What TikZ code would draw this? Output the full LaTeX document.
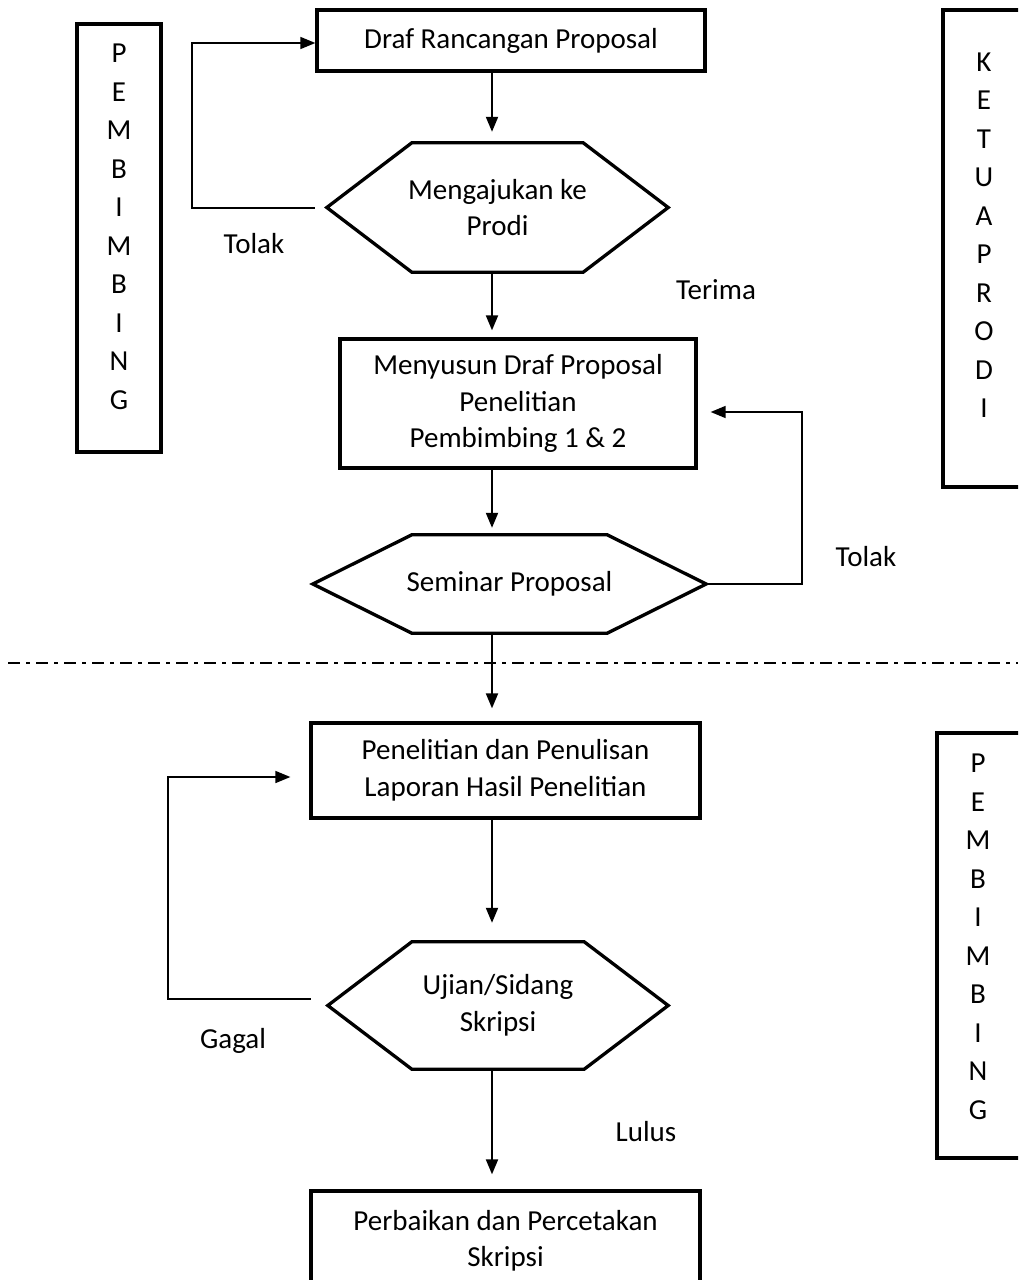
\documentclass[tikz,border=0pt]{standalone}
\usepackage{fontspec}
\setmainfont{Carlito}
\usetikzlibrary{arrows.meta,positioning}
\tikzset{
  kotak/.style={draw, line width=3.3pt, align=center, inner sep=0pt},
  heksa/.style={align=center, inner sep=0pt},
  panah/.style={-{Triangle[length=15pt,width=12pt]}, line width=2pt},
  balik/.style={panah, line width=1.6pt},
  tepi/.style={line width=3.3pt},
  huruf/.style={align=center, font=\fontsize{29}{38.5}\selectfont},
}
\newcommand{\gambarheksa}[2]{%
  \draw[line width=3.3pt, line join=miter] (#1.west) -- ([xshift=#2]#1.north west) -- ([xshift=-#2]#1.north east) -- (#1.east) -- ([xshift=-#2]#1.south east) -- ([xshift=#2]#1.south west) -- cycle;}

\begin{document}
\begin{tikzpicture}[x=1pt, y=-1pt, font=\fontsize{29}{36.5}\selectfont]
    \useasboundingbox (0,0) rectangle (1018,1280);
    \clip (0,0) rectangle (1018,1280);

    % Define the steps of the flow
    \node[kotak, minimum width=388pt, minimum height=61pt] (draf) at (511,40.5) {Draf Rancangan Proposal};
    \node[heksa, minimum width=341pt, minimum height=129pt] (aju) at (497.5,207.5) {Mengajukan ke\\Prodi};
    \node[kotak, minimum width=356pt, minimum height=129pt] (susun) at (518,403.5) {Menyusun Draf Proposal\\Penelitian\\Pembimbing 1 \& 2};
    \node[heksa, minimum width=393pt, minimum height=98pt] (sem) at (509.5,584) {Seminar Proposal};
    \node[kotak, minimum width=389pt, minimum height=95pt] (teliti) at (505.5,770.5) {Penelitian dan Penulisan\\Laporan Hasil Penelitian};
    \node[heksa, minimum width=340pt, minimum height=127pt] (ujian) at (498,1005.5) {Ujian/Sidang\\Skripsi};
    \node[kotak, minimum width=389pt, minimum height=100pt] (cetak) at (505.5,1241) {Perbaikan dan Percetakan\\Skripsi};
    \gambarheksa{aju}{85pt}
    \gambarheksa{sem}{99pt}
    \gambarheksa{ujian}{84pt}

    % Side boxes
    \draw[tepi] (77,24) rectangle (161,452);
    \node[huruf] (pembA) at (119,227) {P\\E\\M\\B\\I\\M\\B\\I\\N\\G};
    \draw[tepi] (943,10) rectangle (1040,487);
    \node[huruf] (ketua) at (984,235) {K\\E\\T\\U\\A\\P\\R\\O\\D\\I};
    \draw[tepi] (937,733) rectangle (1040,1158);
    \node[huruf] (pembB) at (978,937) {P\\E\\M\\B\\I\\M\\B\\I\\N\\G};

    % Dash dot separator
    \draw[line width=2.4pt, dash pattern=on 12pt off 6pt on 4pt off 6pt] (8,663) -- (1018,663);

    % Main arrows
    \coordinate (sumbu) at (492,0);
    \draw[panah, shorten >=11pt] (draf.south -| sumbu) -- (aju.north -| sumbu);
    \draw[panah, shorten >=7pt] (aju.south -| sumbu) -- (susun.north -| sumbu);
    \draw[panah, shorten >=7pt] (susun.south -| sumbu) -- (sem.north -| sumbu);
    \draw[panah, shorten >=13pt] (sem.south -| sumbu) -- (teliti.north -| sumbu);
    \draw[panah, shorten >=19pt] (teliti.south -| sumbu) -- (ujian.north -| sumbu);
    \draw[panah, shorten >=15pt] (ujian.south -| sumbu) -- (cetak.north -| sumbu);

    % Loops back
    \coordinate (sudutA1) at (192,208);
    \coordinate (sudutA2) at (192,43);
    \draw[balik, shorten <=12pt] (sudutA1 -| aju.west) -- (sudutA1) -- (sudutA2) -- (sudutA2 -| draf.west);
    \coordinate (sudutB1) at (802,584);
    \coordinate (sudutB2) at (802,412);
    \draw[balik, shorten >=13pt] (sem.east) -- (sudutB1) -- (sudutB2) -- (sudutB2 -| susun.east);
    \coordinate (sudutC1) at (168,999);
    \coordinate (sudutC2) at (168,777);
    \draw[balik, shorten <=17pt, shorten >=19pt] (sudutC1 -| ujian.west) -- (sudutC1) -- (sudutC2) -- (sudutC2 -| teliti.west);

    % Labels
    \node (tolakA) at (254,244) {Tolak};
    \node (terima) at (716,290) {Terima};
    \node (tolakB) at (866,557) {Tolak};
    \node (gagal) at (233,1041) {Gagal};
    \node (lulus) at (646,1132) {Lulus};
\end{tikzpicture}
\end{document}
